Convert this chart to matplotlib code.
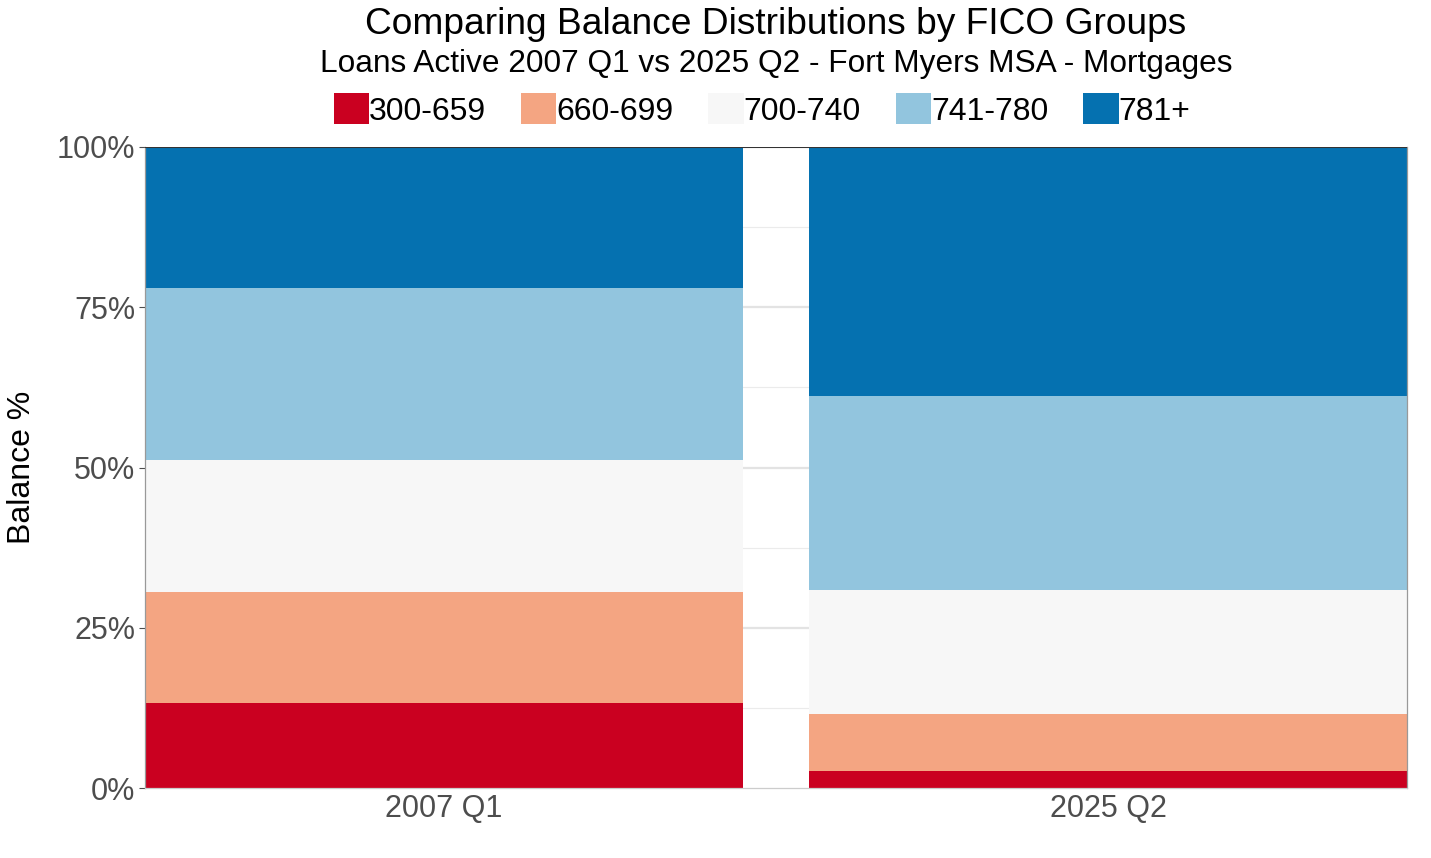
import matplotlib.pyplot as plt
import numpy as np
from matplotlib.patches import Patch

plt.rcParams['font.family'] = ['Liberation Sans', 'DejaVu Sans']

# --- Data ---
periods = ["2007 Q1", "2025 Q2"]
fico_groups = ["300-659", "660-699", "700-740", "741-780", "781+"]
share_2007 = [13.3, 17.3, 20.6, 26.8, 22.0]
share_2025 = [2.7, 8.9, 19.3, 30.3, 38.8]
colors = ["#CA0020", "#F4A582", "#F7F7F7", "#92C5DE", "#0571B0"]

shares = np.array([share_2007, share_2025]).T  # rows = groups

fig = plt.figure(figsize=(14.31, 8.58), dpi=100)
ax = fig.add_axes([145 / 1431, 1 - 788 / 858, (1407 - 145) / 1431, (788 - 147) / 858])

x = np.arange(1, len(periods) + 1)
bottom = np.zeros(len(periods))
for vals, col in zip(shares, colors):
    ax.bar(x, vals, width=0.9, bottom=bottom, color=col, linewidth=0, zorder=2)
    bottom += vals

ax.set_xlim(0.55, 2.45)
ax.set_ylim(0, 100)

# grid
ax.set_yticks([0, 25, 50, 75, 100])
ax.set_yticklabels(["0%", "25%", "50%", "75%", "100%"])
for y in [12.5, 37.5, 62.5, 87.5]:
    ax.axhline(y, color="#ebebeb", lw=0.8, zorder=1)
for y in [25, 50, 75]:
    ax.axhline(y, color="#e3e3e3", lw=1.6, zorder=1)
ax.axhline(100, color="#333333", lw=1.5, zorder=3)

ax.set_xticks(x)
ax.set_xticklabels(periods)
ax.tick_params(axis="both", colors="#4d4d4d", labelsize=22, length=4, width=0.8)
ax.tick_params(axis="x", length=0, pad=4)
ax.tick_params(axis="y", pad=3)
for side in ["top"]:
    ax.spines[side].set_visible(False)
for side in ["left", "bottom", "right"]:
    ax.spines[side].set_color("#999999")
    ax.spines[side].set_linewidth(0.9)
ax.spines["bottom"].set_color("#cccccc")

ax.set_ylabel("Balance %", fontsize=23, labelpad=14)

# titles centred on the panel
cx = 776 / 1431
fig.text(cx, 1 - 25 / 858, "Comparing Balance Distributions by FICO Groups",
         ha="center", va="center", fontsize=26.7)
fig.text(cx, 1 - 64 / 858, "Loans Active 2007 Q1 vs 2025 Q2 - Fort Myers MSA - Mortgages",
         ha="center", va="center", fontsize=22.8)

handles = [Patch(facecolor=c, edgecolor="none") for c in colors]
fig.legend(handles, fico_groups, loc="center", bbox_to_anchor=(762 / 1431, 1 - 110 / 858),
           ncol=5, frameon=False, fontsize=23, handlelength=1.1, handleheight=1.1,
           handletextpad=0.0, columnspacing=1.1)

fig.savefig("out.png", dpi=100)
